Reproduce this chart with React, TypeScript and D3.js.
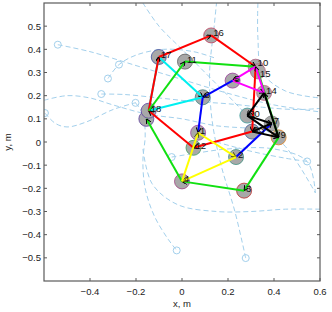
import React from "react";
import * as d3 from "d3";

// node ids and positions (m)
const nodeIds = ["1", "2", "3", "4", "5", "6", "7", "8", "9", "10", "11", "12", "13", "14", "15", "16", "17", "18", "20"];
const nodeLabels = ["1", "2", "3", "4", "5", "6", "7", "", "9", "10", "11", "12", "13", "14", "15", "16", "17", "18", "20"];
const nodeX = [0.07, 0.235, 0.27, 0.0, 0.22, 0.09, 0.39, -0.155, 0.42, 0.32, 0.013, 0.05, 0.305, 0.357, 0.33, 0.127, -0.101, -0.145, 0.284];
const nodeY = [0.04, -0.065, -0.21, -0.17, 0.265, 0.193, 0.08, 0.1, 0.02, 0.325, 0.347, -0.025, 0.045, 0.212, 0.305, 0.46, 0.367, 0.135, 0.114];
const nodeEdge = ["#a040a0", "#409080", "#c03030", "#a04080", "#a040a0", "#408080", "#808080", "#6040a0", "#e08020", "#b06080", "#606060", "#40a060", "#4060a0", "#c06080", "#b06080", "#c04060", "#4050a0", "#6040a0", "#40a0a0"];

// edge chains per colour
const redChain = ["17", "16", "10", "13", "12", "18", "17"];
const greenChainA = ["18", "11", "10"];
const greenChainB = ["15", "9", "3", "4", "8"];
const cyanChain = ["17", "6", "18", "17"];
const magentaChain = ["10", "5", "14", "10"];
const yellowChain = ["1", "2", "4", "1"];
const blueChainA = ["5", "6", "1"];
const blueChainB = ["2", "7"];
const blackChainA = ["14", "20", "7", "13", "9", "14"];
const blackChainB = ["20", "9"];

const chains: [string[], string][] = [
  [cyanChain, "#00f0f0"],
  [redChain, "#ff0000"],
  [greenChainA, "#11e011"],
  [greenChainB, "#11e011"],
  [magentaChain, "#ff00ff"],
  [blueChainA, "#0000ff"],
  [blueChainB, "#0000ff"],
  [yellowChain, "#ffff00"],
  [blackChainA, "#000000"],
  [blackChainB, "#000000"],
];

// light blue dashed paths
const trajA = [[-0.54, 0.42], [-0.4, 0.39], [-0.2, 0.33], [0, 0.27], [0.2, 0.21], [0.4, 0.16], [0.6, 0.13]];
const trajB = [[-0.322, 0.274], [-0.274, 0.334], [-0.2, 0.375], [-0.08, 0.4], [0.05, 0.39], [0.15, 0.36]];
const trajC = [[-0.351, 0.207], [-0.25, 0.205], [-0.1, 0.19], [0.05, 0.175], [0.2, 0.165], [0.35, 0.15], [0.5, 0.14], [0.6, 0.145]];
const trajD = [[-0.6, 0.18], [-0.5, 0.2], [-0.4, 0.19], [-0.3, 0.16], [-0.15, 0.12], [0.0, 0.1], [0.15, 0.07], [0.3, 0.06]];
const trajE = [[-0.596, 0.125], [-0.55, 0.08], [-0.5, 0.065], [-0.42, 0.085], [-0.3, 0.14], [-0.2, 0.17]];
const trajF = [[-0.202, 0.169], [-0.17, 0.12], [-0.16, 0.03], [-0.17, -0.08], [-0.16, -0.2], [-0.12, -0.32], [-0.06, -0.42], [-0.023, -0.468]];
const trajG = [[0.277, -0.501], [0.23, -0.3], [0.17, -0.1], [0.13, 0.1], [0.12, 0.3], [0.14, 0.5], [0.15, 0.6]];
const trajH = [[0.544, -0.084], [0.45, -0.07], [0.3, -0.04], [0.15, 0.0]];
const trajI = [[-0.17, -0.03], [-0.13, -0.18], [-0.02, -0.27], [0.15, -0.3], [0.3, -0.3], [0.45, -0.29], [0.6, -0.29]];
const trajJ = [[-0.17, 0.6], [-0.1, 0.5], [0.0, 0.4], [0.1, 0.3], [0.2, 0.2], [0.3, 0.1], [0.45, -0.02], [0.58, -0.22]];
const trajK = [[0.33, 0.6], [0.33, 0.45], [0.35, 0.3], [0.45, 0.22], [0.6, 0.19]];
const trajL = [[-0.045, -0.065], [0.05, -0.05], [0.2, -0.03], [0.4, -0.03], [0.544, -0.084], [0.58, -0.22]];
const trajs = [trajA, trajB, trajC, trajD, trajE, trajF, trajG, trajH, trajI, trajJ, trajK, trajL];
const startCircles = [[-0.54, 0.42], [-0.274, 0.334], [-0.322, 0.274], [-0.351, 0.207], [-0.202, 0.169], [-0.596, 0.125], [-0.045, -0.065], [0.544, -0.084], [-0.023, -0.468], [0.277, -0.501]];

const xTicks = [-0.4, -0.2, 0, 0.2, 0.4, 0.6];
const yTicks = [-0.5, -0.4, -0.3, -0.2, -0.1, 0, 0.1, 0.2, 0.3, 0.4, 0.5];

const W = 332;
const H = 312;
const margin = { top: 3, right: 12, bottom: 31, left: 44 };

const fmt = (v: number) => (v === 0 ? "0" : (v < 0 ? "\u2212" : "") + String(Math.abs(v)));

const App = () => {
  const x = d3.scaleLinear().domain([-0.6, 0.6]).range([margin.left, W - margin.right]);
  const y = d3.scaleLinear().domain([-0.6, 0.6]).range([H - margin.bottom, margin.top]);
  const line = d3
    .line<number[]>()
    .x((d) => x(d[0]))
    .y((d) => y(d[1]))
    .curve(d3.curveCatmullRom);
  const pos = (id: string) => {
    const i = nodeIds.indexOf(id);
    return [x(nodeX[i]), y(nodeY[i])];
  };
  const font = "'Liberation Sans', Arial, sans-serif";
  const x0 = margin.left;
  const x1 = W - margin.right;
  const y0 = margin.top;
  const y1 = H - margin.bottom;
  const axisColor = "#5a5a5a";

  return (
    <svg width={W} height={H} style={{ position: "absolute", left: 0, top: 0, background: "#fff" }}>
      <defs>
        <clipPath id="plotArea">
          <rect x={x0} y={y0} width={x1 - x0} height={y1 - y0} />
        </clipPath>
        {chains.map(([, c], i) => (
          <marker key={i} id={`arr${i}`} viewBox="0 0 10 10" refX={10} refY={5} markerWidth={5} markerHeight={5} orient="auto" markerUnits="userSpaceOnUse">
            <path d="M0,0 L10,5 L0,10" fill="none" stroke={c === "#ffff00" ? "#606000" : "#000"} strokeWidth={2} />
          </marker>
        ))}
      </defs>
      <rect x={0} y={0} width={W} height={H} fill="#fff" />
      <g clipPath="url(#plotArea)">
        {
          // trajectories
          trajs.map((t, i) => (
            <path key={i} d={line(t) || ""} fill="none" stroke="#a3d0ec" strokeWidth={1} strokeDasharray="5,3" />
          ))
        }
        {startCircles.map((c, i) => (
          <circle key={i} cx={x(c[0])} cy={y(c[1])} r={3.5} fill="none" stroke="#a3d0ec" strokeWidth={1} />
        ))}
        {
          // nodes
          nodeIds.map((id, i) => (
            <circle key={id} cx={x(nodeX[i])} cy={y(nodeY[i])} r={7.5} fill="#a8a8a8" stroke={nodeEdge[i]} strokeWidth={0.8} />
          ))
        }
        {
          // edges
          chains.map(([ids, c], ci) => (
            <g key={ci}>
              {ids.slice(1).map((id, k) => {
                const [ax, ay] = pos(ids[k]);
                const [bx, by] = pos(id);
                return (
                  <line key={k} x1={ax} y1={ay} x2={bx} y2={by} stroke={c} strokeWidth={2} markerEnd={`url(#arr${ci})`} />
                );
              })}
            </g>
          ))
        }
        {nodeIds.map((id, i) => (
          <text key={id} x={x(nodeX[i]) + 2} y={y(nodeY[i]) + (id === "15" ? 6 : id === "10" ? -1 : 1)} fontSize={9.5} fontFamily={font} fill="#111">
            {nodeLabels[i]}
          </text>
        ))}
      </g>
      {/* axes box */}
      <rect x={x0} y={y0} width={x1 - x0} height={y1 - y0} fill="none" stroke={axisColor} strokeWidth={1.2} />
      {xTicks.map((t) => (
        <g key={t}>
          <line x1={x(t)} x2={x(t)} y1={y1} y2={y1 - 3} stroke={axisColor} />
          <line x1={x(t)} x2={x(t)} y1={y0} y2={y0 + 3} stroke={axisColor} />
          <text x={x(t)} y={y1 + 14} textAnchor="middle" fontSize={9.5} fontFamily={font} fill="#222">
            {fmt(t)}
          </text>
        </g>
      ))}
      {yTicks.map((t) => (
        <g key={t}>
          <line x1={x0} x2={x0 + 3} y1={y(t)} y2={y(t)} stroke={axisColor} />
          <line x1={x1} x2={x1 - 3} y1={y(t)} y2={y(t)} stroke={axisColor} />
          <text x={x0 - 3} y={y(t) + 3.5} textAnchor="end" fontSize={9.5} fontFamily={font} fill="#222">
            {fmt(t)}
          </text>
        </g>
      ))}
      <text x={(x0 + x1) / 2} y={H - 5} textAnchor="middle" fontSize={9.5} fontFamily={font} fill="#222">
        x, m
      </text>
      <text transform={`translate(11,${(y0 + y1) / 2}) rotate(-90)`} textAnchor="middle" fontSize={9.5} fontFamily={font} fill="#222">
        y, m
      </text>
    </svg>
  );
};

export default App;
